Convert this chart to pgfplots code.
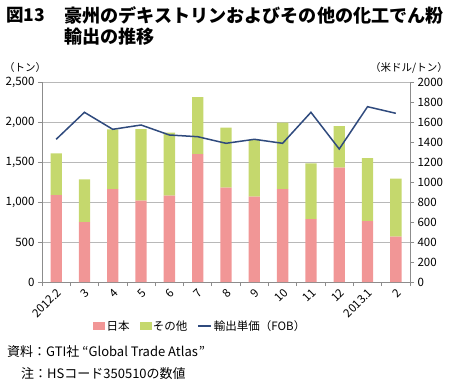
\documentclass[border=0pt]{standalone}
\usepackage{fontspec}
\setmainfont{Noto Sans CJK JP}
\usepackage{pgfplots}
\pgfplotsset{compat=1.18}
\definecolor{jp}{HTML}{F19696}
\definecolor{oth}{HTML}{C5D86D}
\definecolor{ln}{HTML}{2F4A7D}
\definecolor{axc}{HTML}{8C8C8C}
\definecolor{grc}{HTML}{B8B8B8}
\begin{document}
\begin{tikzpicture}
\path[use as bounding box] (0pt,0pt) rectangle (449pt,-388pt);
\node[anchor=west,inner sep=0pt,font=\bfseries\fontsize{17.5}{20}\selectfont] at (6pt,-15pt) {図13};
\node[anchor=west,inner sep=0pt,font=\bfseries\fontsize{18.1}{20}\selectfont] at (64pt,-15pt) {豪州のデキストリンおよびその他の化工でん粉};
\node[anchor=west,inner sep=0pt,font=\bfseries\fontsize{18.1}{20}\selectfont] at (64pt,-37pt) {輸出の推移};
\node[anchor=west,inner sep=0pt,font=\fontsize{10.5}{12}\selectfont] at (4pt,-68pt) {（トン）};
\node[anchor=east,inner sep=0pt,font=\fontsize{10.5}{12}\selectfont] at (448pt,-68pt) {（米ドル/トン）};
\node[anchor=west,inner sep=0pt,font=\fontsize{13}{15}\selectfont] at (7pt,-352pt) {資料：GTI社\hspace{3pt}“Global Trade Atlas\hspace{1pt}”};
\node[anchor=west,inner sep=0pt,font=\fontsize{13}{15}\selectfont] at (21pt,-374pt) {注：HSコード350510の数値};
\begin{axis}[
  at={(42pt,-282pt)}, anchor=south west,
  scale only axis, width=368pt, height=200pt,
  xmin=-0.5, xmax=12.5, ymin=0, ymax=2500,
  axis x line*=bottom, axis y line*=left,
  axis line style={axc, line width=1pt},
  ybar stacked, bar width=11.3pt,
  xtick={0,...,12},
  xticklabels={2012.2,3,4,5,6,7,8,9,10,11,12,2013.1,2},
  minor xtick={-0.5,0.5,...,12.5},
  major x tick style={draw=none},
  minor x tick style={axc, line width=0.8pt},
  y tick style={axc, line width=0.8pt},
  tick align=outside, major tick length=4pt, minor tick length=4pt,
  ytick={0,500,...,2500},
  ymajorgrids, grid style={grc, line width=0.8pt},
  tick label style={font=\fontsize{11.5}{13}\selectfont},
  x tick label style={rotate=45, anchor=north east, inner sep=1pt},
  /pgf/number format/assume math mode=true,
  /pgf/number format/1000 sep={,},
  scaled y ticks=false,
]
\addplot[fill=jp, draw=none] coordinates {(0,1087) (1,750) (2,1162) (3,1017) (4,1079) (5,1600) (6,1179) (7,1067) (8,1162) (9,787) (10,1429) (11,762) (12,567)};
\addplot[fill=oth, draw=none] coordinates {(0,522) (1,533) (2,746) (3,895) (4,788) (5,712) (6,750) (7,708) (8,830) (9,696) (10,521) (11,788) (12,725)};
\end{axis}
\begin{axis}[
  at={(42pt,-282pt)}, anchor=south west,
  scale only axis, width=368pt, height=200pt,
  xmin=-0.5, xmax=12.5, ymin=0, ymax=2000,
  axis y line*=right, axis x line=none,
  axis line style={axc, line width=1pt},
  y tick style={axc, line width=0.8pt},
  tick align=outside, major tick length=4pt,
  ytick={0,200,...,2000},
  tick label style={font=\fontsize{11.5}{13}\selectfont},
  /pgf/number format/assume math mode=true,
  /pgf/number format/1000 sep={},
  scaled y ticks=false,
  legend columns=3,
  legend style={at={(0.43,-0.22)}, anchor=center, draw=none, fill=none,
    font=\fontsize{11.5}{13}\selectfont, inner sep=0pt,
    /tikz/every even column/.append style={column sep=8pt}},
]
\addlegendimage{legend image code/.code={\fill[jp] (0pt,-3.5pt) rectangle (11pt,3.5pt);}}
\addlegendentry{日本}
\addlegendimage{legend image code/.code={\fill[oth] (0pt,-3.5pt) rectangle (11pt,3.5pt);}}
\addlegendentry{その他}
\addplot[ln, line width=1.5pt, mark=none, legend image code/.code={\draw[ln, line width=1.5pt] (0pt,0pt) -- (13pt,0pt);}] coordinates {(0,1427) (1,1697) (2,1527) (3,1570) (4,1470) (5,1453) (6,1387) (7,1427) (8,1387) (9,1697) (10,1330) (11,1753) (12,1687)};
\addlegendentry{輸出単価（FOB）}
\end{axis}
\end{tikzpicture}
\end{document}
